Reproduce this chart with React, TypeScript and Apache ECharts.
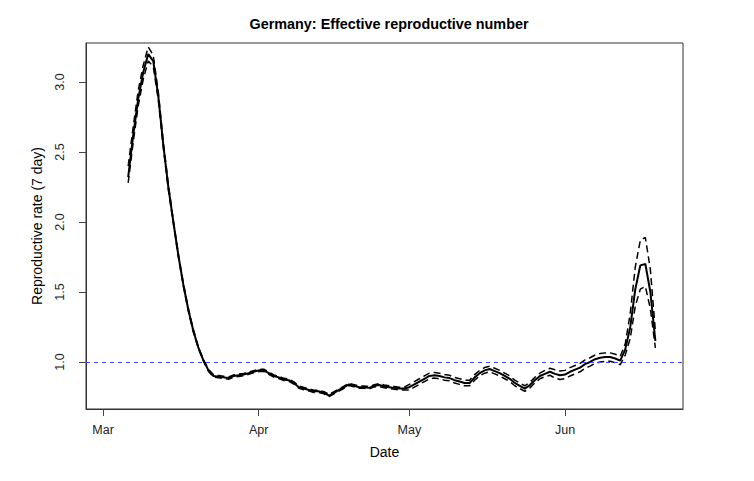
import React, { useEffect, useRef } from "react";
import * as echarts from "echarts";

// Days since 1 March 2020; first observation is day 5 (6 March)
const startDay = 5;

const monthTicks = [0, 31, 61, 92];
const monthLabels = ["Mar", "Apr", "May", "Jun"];
const yTicks = [1.0, 1.5, 2.0, 2.5, 3.0];

const estimate = [
  2.32, 2.62, 2.88, 3.07, 3.2, 3.15, 2.9, 2.55, 2.25, 2.0,
  1.76, 1.55, 1.37, 1.22, 1.1, 1.01, 0.94, 0.9, 0.895, 0.89,
  0.885, 0.9, 0.905, 0.91, 0.92, 0.93, 0.94, 0.94, 0.92, 0.9,
  0.89, 0.875, 0.87, 0.85, 0.82, 0.81, 0.8, 0.79, 0.79, 0.78,
  0.76, 0.78, 0.8, 0.82, 0.84, 0.83, 0.82, 0.82, 0.815, 0.83,
  0.835, 0.825, 0.82, 0.815, 0.81, 0.81, 0.82, 0.84, 0.86, 0.88,
  0.9, 0.905, 0.9, 0.89, 0.885, 0.87, 0.86, 0.85, 0.85, 0.89,
  0.92, 0.94, 0.95, 0.935, 0.92, 0.9, 0.88, 0.85, 0.83, 0.81,
  0.835, 0.87, 0.9, 0.915, 0.93, 0.915, 0.905, 0.91, 0.93, 0.945,
  0.96, 0.985, 1.0, 1.02, 1.03, 1.035, 1.035, 1.025, 1.01, 1.09,
  1.25, 1.52, 1.69, 1.7, 1.5, 1.15,
];

const upper = [
  2.4, 2.68, 2.94, 3.12, 3.25, 3.19, 2.93, 2.57, 2.27, 2.01,
  1.77, 1.56, 1.38, 1.23, 1.105, 1.015, 0.948, 0.908, 0.903, 0.898,
  0.893, 0.908, 0.913, 0.918, 0.928, 0.938, 0.948, 0.948, 0.928, 0.908,
  0.898, 0.883, 0.878, 0.858, 0.828, 0.818, 0.808, 0.798, 0.798, 0.788,
  0.768, 0.788, 0.808, 0.828, 0.848, 0.838, 0.828, 0.828, 0.823, 0.838,
  0.845, 0.835, 0.83, 0.825, 0.82, 0.82, 0.84, 0.86, 0.88, 0.9,
  0.92, 0.925, 0.92, 0.91, 0.905, 0.89, 0.88, 0.87, 0.87, 0.91,
  0.94, 0.96, 0.97, 0.955, 0.94, 0.92, 0.9, 0.87, 0.85, 0.83,
  0.855, 0.89, 0.92, 0.94, 0.955, 0.945, 0.935, 0.94, 0.96, 0.975,
  0.99, 1.015, 1.03, 1.05, 1.06, 1.065, 1.065, 1.055, 1.04, 1.13,
  1.35, 1.68, 1.87, 1.89, 1.66, 1.22,
];

const lower = [
  2.28, 2.57, 2.83, 3.02, 3.15, 3.11, 2.87, 2.53, 2.23, 1.99,
  1.75, 1.54, 1.36, 1.21, 1.095, 1.005, 0.932, 0.892, 0.887, 0.882,
  0.877, 0.892, 0.897, 0.902, 0.912, 0.922, 0.932, 0.932, 0.912, 0.892,
  0.882, 0.867, 0.862, 0.842, 0.812, 0.802, 0.792, 0.782, 0.782, 0.772,
  0.752, 0.772, 0.792, 0.812, 0.832, 0.822, 0.812, 0.812, 0.807, 0.822,
  0.825, 0.815, 0.81, 0.805, 0.8, 0.8, 0.8, 0.82, 0.84, 0.86,
  0.88, 0.885, 0.88, 0.87, 0.865, 0.85, 0.84, 0.83, 0.83, 0.87,
  0.9, 0.92, 0.93, 0.915, 0.9, 0.88, 0.86, 0.83, 0.81, 0.79,
  0.815, 0.85, 0.88, 0.895, 0.905, 0.885, 0.875, 0.88, 0.9, 0.915,
  0.93, 0.955, 0.97, 0.99, 1.0, 1.005, 1.005, 0.995, 0.98, 1.05,
  1.17, 1.4, 1.52, 1.54, 1.38, 1.1,
];

const toPoints = (vals: number[]) => vals.map((v, i) => [startDay + i, v]);

export default function App() {
  const ref = useRef<HTMLDivElement>(null);
  useEffect(() => {
    if (!ref.current) return;
    const chart = echarts.init(ref.current, null, { renderer: "svg" });
    const font = "Liberation Sans, Arial, Helvetica, sans-serif";
    chart.setOption({
      animation: false,
      backgroundColor: "#ffffff",
      textStyle: { fontFamily: font },
      title: {
        text: "Germany: Effective reproductive number",
        left: 384,
        top: 12,
        textAlign: "center",
        textStyle: { fontFamily: font, fontSize: 14.4, fontWeight: "bold", color: "#000" },
      },
      grid: {
        left: 86,
        right: 71,
        top: 43,
        bottom: 72,
        show: true,
        borderColor: "#333",
        borderWidth: 1,
        backgroundColor: "transparent",
      },
      xAxis: {
        type: "value",
        min: -3.4,
        max: 115.5,
        name: "Date",
        nameLocation: "middle",
        nameGap: 36,
        nameTextStyle: { fontFamily: font, fontSize: 14, color: "#000" },
        axisLine: { show: true, onZero: false, lineStyle: { color: "#333", width: 1 } },
        splitLine: { show: false },
        axisTick: {
          show: true,
          inside: false,
          length: 7,
          customValues: monthTicks,
          lineStyle: { color: "#444", width: 1 },
        },
        axisLabel: {
          customValues: monthTicks,
          margin: 14,
          fontSize: 12.5,
          fontFamily: font,
          color: "#222",
          formatter: (v: number) => monthLabels[monthTicks.indexOf(v)] ?? "",
        },
      },
      yAxis: {
        type: "value",
        min: 0.664,
        max: 3.279,
        name: "Reproductive rate (7 day)",
        nameLocation: "middle",
        nameGap: 42,
        nameRotate: 90,
        nameTextStyle: { fontFamily: font, fontSize: 14, color: "#000" },
        axisLine: { show: true, onZero: false, lineStyle: { color: "#333", width: 1 } },
        splitLine: { show: false },
        axisTick: {
          show: true,
          inside: false,
          length: 7,
          customValues: yTicks,
          lineStyle: { color: "#444", width: 1 },
        },
        axisLabel: {
          customValues: yTicks,
          rotate: 90,
          margin: 20,
          fontSize: 12.5,
          fontFamily: font,
          color: "#222",
          formatter: (v: number) => v.toFixed(1),
        },
      },
      series: [
        {
          type: "line",
          data: toPoints(estimate),
          showSymbol: false,
          lineStyle: { color: "#000", width: 2 },
          z: 3,
          markLine: {
            silent: true,
            symbol: "none",
            label: { show: false },
            lineStyle: { color: "#4040ff", width: 1, type: [4, 4] },
            data: [{ yAxis: 1 }],
          },
        },
        {
          type: "line",
          data: toPoints(upper),
          showSymbol: false,
          lineStyle: { color: "#000", width: 1.5, type: [7, 4] },
          z: 2,
        },
        {
          type: "line",
          data: toPoints(lower),
          showSymbol: false,
          lineStyle: { color: "#000", width: 1.5, type: [7, 4] },
          z: 2,
        },
      ],
    });
    return () => chart.dispose();
  }, []);
  return (
    <div
      ref={ref}
      style={{ position: "fixed", left: 0, top: 0, width: 754, height: 481, background: "#fff" }}
    />
  );
}
